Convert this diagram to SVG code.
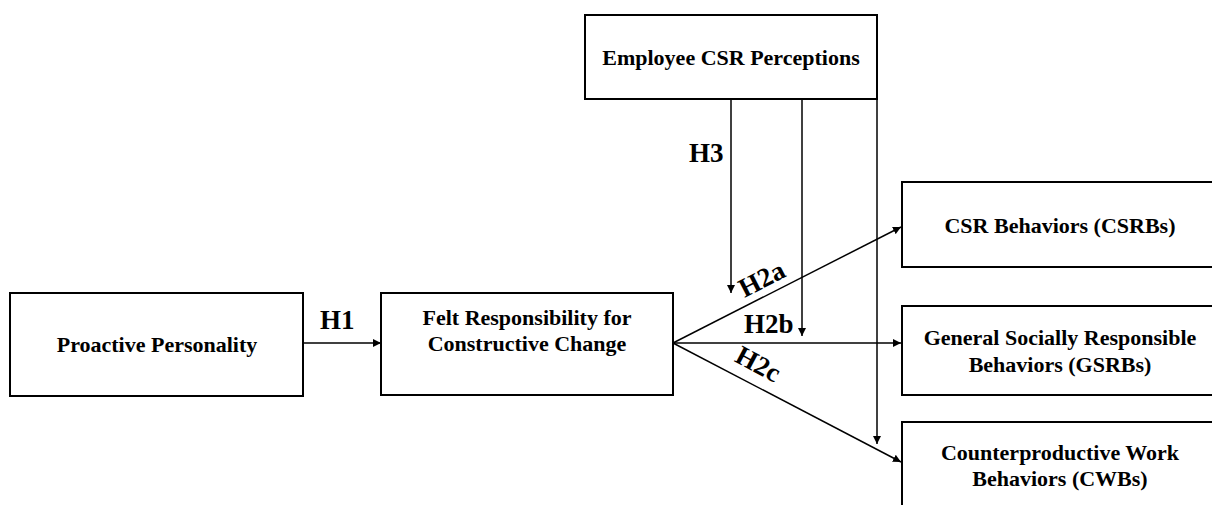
<svg xmlns="http://www.w3.org/2000/svg" width="1212" height="505" viewBox="0 0 1212 505">
<style>
.box{fill:#fff;stroke:#000;stroke-width:2}
.t{font-family:"Liberation Serif",serif;font-weight:bold;font-size:22px;text-anchor:middle;fill:#000}
.h{font-family:"Liberation Serif",serif;font-weight:bold;font-size:27px;fill:#000}
.c{stroke:#000;stroke-width:1.5;fill:none;marker-end:url(#ah)}
</style>
<defs>
<marker id="ah" viewBox="0 0 10 10" refX="10" refY="5" markerWidth="8" markerHeight="8" markerUnits="userSpaceOnUse" orient="auto">
<path d="M0,0 L10,5 L0,10 z" fill="#000"/>
</marker>
</defs>
<rect width="1212" height="505" fill="#fff"/>
<g id="connectors">
<line class="c" x1="303" y1="343" x2="381" y2="343"/>
<line class="c" x1="673" y1="343" x2="901" y2="227"/>
<line class="c" x1="673" y1="343" x2="901" y2="343"/>
<line class="c" x1="673" y1="343" x2="901" y2="462"/>
<line class="c" x1="731" y1="99" x2="731" y2="293"/>
<line class="c" x1="802" y1="99" x2="802" y2="336"/>
<line class="c" x1="877" y1="99" x2="877" y2="444"/>
<text class="h" x="320" y="329">H1</text>
<text class="h" x="689" y="162">H3</text>
<text class="h" x="744" y="333">H2b</text>
<text class="h" text-anchor="middle" transform="translate(766,287) rotate(-27)">H2a</text>
<text class="h" text-anchor="middle" transform="translate(754,372) rotate(28)">H2c</text>
</g>
<g id="employee-csr">
<rect class="box" x="585" y="15" width="292" height="84"/>
<text class="t" x="731" y="65">Employee CSR Perceptions</text>
</g>
<g id="proactive">
<rect class="box" x="10" y="293" width="293" height="103"/>
<text class="t" x="157" y="352">Proactive Personality</text>
</g>
<g id="felt">
<rect class="box" x="381" y="293" width="292" height="102"/>
<text class="t" x="527" y="325">Felt Responsibility for</text>
<text class="t" x="527" y="351">Constructive Change</text>
</g>
<g id="csrb">
<rect class="box" x="902" y="182" width="320" height="85"/>
<text class="t" x="1060" y="233">CSR Behaviors (CSRBs)</text>
</g>
<g id="gsrb">
<rect class="box" x="902" y="306" width="320" height="89"/>
<text class="t" x="1060" y="345">General Socially Responsible</text>
<text class="t" x="1060" y="372">Behaviors (GSRBs)</text>
</g>
<g id="cwb">
<rect class="box" x="902" y="422" width="320" height="100"/>
<text class="t" x="1060" y="460">Counterproductive Work</text>
<text class="t" x="1060" y="486">Behaviors (CWBs)</text>
</g>
</svg>
